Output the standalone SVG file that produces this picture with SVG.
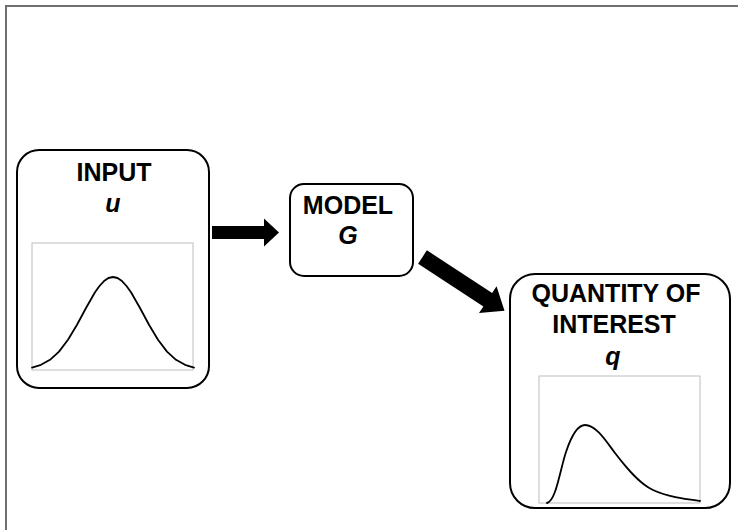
<svg xmlns="http://www.w3.org/2000/svg" width="738" height="530" viewBox="0 0 738 530">
<style>
.box{fill:#fff;stroke:#000;stroke-width:2}
.plot{fill:#fff;stroke:#bdbdbd;stroke-width:1}
.curve{fill:none;stroke:#000;stroke-width:1.8;stroke-linejoin:round;stroke-linecap:round}
.t{font-family:"Liberation Sans",Arial,sans-serif;font-weight:bold;font-size:25px;fill:#000;text-anchor:middle}
.v{font-style:italic}
.arrow{fill:#000}
</style>
<rect width="738" height="530" fill="#fff"/>
<path d="M6,531 V6 H739" fill="none" stroke="#707070" stroke-width="2"/>
<g id="input">
<rect class="box" x="17" y="150" width="192" height="238" rx="22"/>
<text class="t" x="114" y="181">INPUT</text>
<text class="t v" x="113" y="212">u</text>
<rect class="plot" x="32" y="243" width="161" height="127"/>
<path class="curve" d="M32,367.6 L41,364.8 L50,359.8 L59,351.6 L68,339.8 L77,324.7 L86,308 L95,292.3 L99.5,286 L104,281.1 L108.5,278 L113,277 L117.5,278 L122,281.1 L126.5,286 L131,292.3 L140,308 L149,324.7 L158,339.8 L167,351.6 L176,359.8 L185,364.8 L194,367.6"/>
</g>
<g id="model">
<rect class="box" x="290" y="184" width="123" height="92" rx="14"/>
<text class="t" x="348" y="214">MODEL</text>
<text class="t v" x="348" y="244">G</text>
</g>
<g id="qoi">
<rect class="box" x="510" y="274" width="220" height="234" rx="25"/>
<text class="t" x="616" y="302">QUANTITY OF</text>
<text class="t" x="614" y="333">INTEREST</text>
<text class="t v" x="613" y="365">q</text>
<rect class="plot" x="539" y="376" width="161" height="127"/>
<path class="curve" d="M547,503 C556,501 560,470 566,452 C572,434 578,425 585,425 C596,425 606,441 615,453 C628,470 640,484 653,490 C668,497 685,499 700,501"/>
</g>
<g id="connectors">
<polygon class="arrow" points="212,226 264,226 264,218.5 279,232.5 264,246.5 264,239 212,239"/>
<polygon class="arrow" transform="translate(422.5,257) rotate(33.2)" points="0,-8 78,-8 78,-16 98,0 78,16 78,8 0,8"/>
</g>
</svg>
